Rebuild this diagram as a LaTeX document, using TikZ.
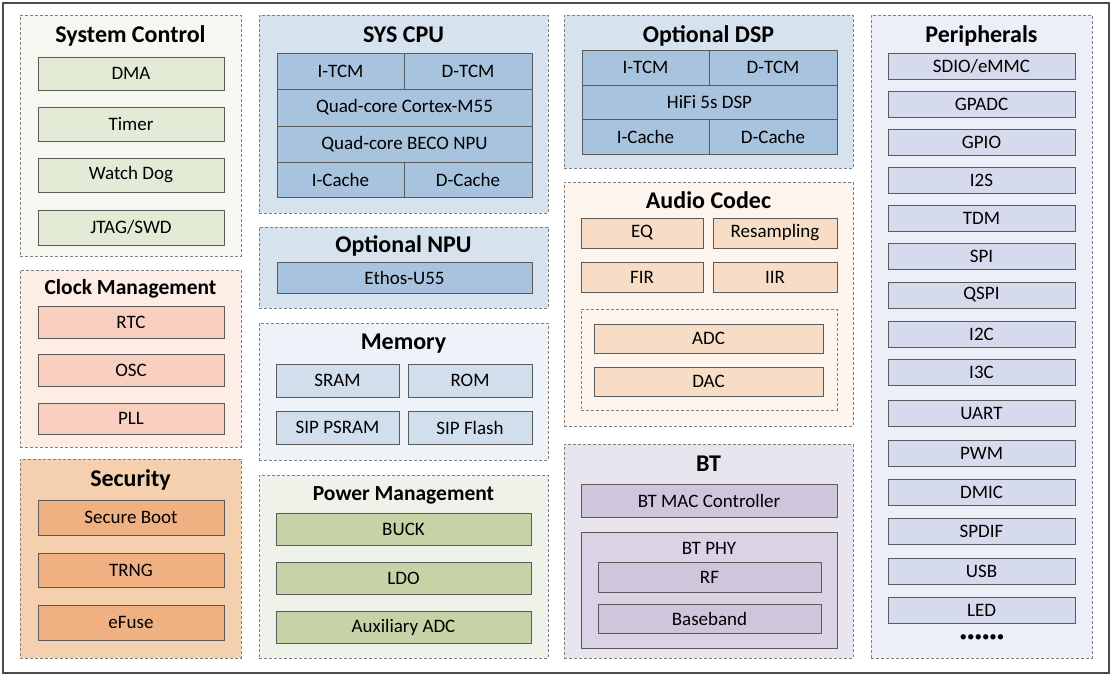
\documentclass[tikz,border=0pt]{standalone}
\usepackage{fontspec}
\setmainfont{Carlito}
\usetikzlibrary{positioning}
\definecolor{scG}{HTML}{F5F7F0}\definecolor{scI}{HTML}{E3EAD5}
\definecolor{ckG}{HTML}{FCEEE5}\definecolor{ckI}{HTML}{F9D0C0}
\definecolor{seG}{HTML}{F5D0AF}\definecolor{seI}{HTML}{EFB182}
\definecolor{cpG}{HTML}{D6E3EE}\definecolor{cpI}{HTML}{A7C3DD}
\definecolor{meG}{HTML}{EEF3F9}\definecolor{meI}{HTML}{D1DEEB}
\definecolor{pwG}{HTML}{EFF2E9}\definecolor{pwI}{HTML}{C6D3A6}
\definecolor{auG}{HTML}{FDF4EE}\definecolor{auI}{HTML}{F8DDC6}
\definecolor{btG}{HTML}{E8E5EF}\definecolor{btI}{HTML}{CEC6DB}\definecolor{btP}{HTML}{D9D3E5}
\definecolor{peG}{HTML}{ECEFF8}\definecolor{peI}{HTML}{D5DAEC}
\definecolor{edge}{HTML}{5A5A5A}
\definecolor{dashc}{HTML}{808080}
\newcommand\rbox[7]{\node[#6, minimum width={(#4-#2)*1pt}, minimum height={(#5-#3)*1pt}] (#1) at ({(#2+#4)/2},{(#3+#5)/2}) {#7};}
\tikzset{
  grp/.style={draw=dashc, line width=0.8pt, dash pattern=on 3pt off 2pt, inner sep=0pt, outer sep=0pt},
  itm/.style={draw=edge, line width=0.8pt, inner sep=0pt, outer sep=0pt, font=\fontsize{19}{21}\selectfont},
  ttl/.style={font=\fontsize{24}{26}\selectfont\bfseries, inner sep=0pt, anchor=base},
  ttls/.style={font=\fontsize{21.5}{23}\selectfont\bfseries, inner sep=0pt, anchor=base},
  lbl/.style={font=\fontsize{19}{21}\selectfont, inner sep=0pt}
}
\begin{document}
\begin{tikzpicture}[x=1pt,y=-1pt]
\useasboundingbox (0,0) rectangle (1113,678);
\rbox{outer}{3}{3}{1109}{673}{draw=black!70, line width=2.2pt, fill=white}{}
% System Control
\rbox{sc}{20}{15}{241}{256}{grp, fill=scG}{}
\node[ttl] (scT) at (130.5,42) {System Control};
\rbox{dma}{38}{57}{224}{90}{itm, fill=scI}{DMA}
\rbox{timer}{38}{107}{224}{141}{itm, fill=scI}{Timer}
\rbox{wdog}{38}{158}{224}{192}{itm, fill=scI}{Watch Dog}
\rbox{jtag}{38}{210}{224}{245}{itm, fill=scI}{JTAG/SWD}
% Clock Management
\rbox{ck}{20}{270}{241}{447}{grp, fill=ckG}{}
\node[ttls] (ckT) at (130.5,294) {Clock Management};
\rbox{rtc}{38}{306}{224}{338}{itm, fill=ckI}{RTC}
\rbox{osc}{38}{354}{224}{386}{itm, fill=ckI}{OSC}
\rbox{pll}{38}{403}{224}{434}{itm, fill=ckI}{PLL}
% Security
\rbox{se}{20}{459}{241}{658}{grp, fill=seG}{}
\node[ttl] (seT) at (130.5,486) {Security};
\rbox{sboot}{38}{500}{224}{535}{itm, fill=seI}{Secure Boot}
\rbox{trng}{38}{553}{224}{587}{itm, fill=seI}{TRNG}
\rbox{efuse}{38}{605}{224}{640}{itm, fill=seI}{eFuse}
% SYS CPU
\rbox{cpu}{259}{15}{548}{213}{grp, fill=cpG}{}
\node[ttl] (cpuT) at (403.5,42) {SYS CPU};
\rbox{citcm}{277}{53}{404}{89}{itm, fill=cpI}{I-TCM}
\rbox{cdtcm}{404}{53}{532}{89}{itm, fill=cpI}{D-TCM}
\rbox{cm55}{277}{89}{532}{126}{itm, fill=cpI}{Quad-core Cortex-M55}
\rbox{cbeco}{277}{126}{532}{162}{itm, fill=cpI}{Quad-core BECO NPU}
\rbox{cic}{277}{162}{404}{197}{itm, fill=cpI}{I-Cache}
\rbox{cdc}{404}{162}{532}{197}{itm, fill=cpI}{D-Cache}
% Optional NPU
\rbox{npu}{259}{227}{548}{308}{grp, fill=cpG}{}
\node[ttl] (npuT) at (403.5,252) {Optional NPU};
\rbox{ethos}{277}{262}{532}{293}{itm, fill=cpI}{Ethos-U55}
% Memory
\rbox{mem}{259}{323}{548}{460}{grp, fill=meG}{}
\node[ttl] (memT) at (403.5,349) {Memory};
\rbox{sram}{276}{364}{399}{397}{itm, fill=meI}{SRAM}
\rbox{rom}{408}{364}{532}{397}{itm, fill=meI}{ROM}
\rbox{psram}{276}{411}{399}{444}{itm, fill=meI}{SIP PSRAM}
\rbox{flash}{408}{411}{532}{444}{itm, fill=meI}{SIP Flash}
% Power Management
\rbox{pw}{259}{475}{548}{658}{grp, fill=pwG}{}
\node[ttls] (pwT) at (403.5,500) {Power Management};
\rbox{buck}{276}{513}{531}{545}{itm, fill=pwI}{BUCK}
\rbox{ldo}{276}{562}{531}{594}{itm, fill=pwI}{LDO}
\rbox{aadc}{276}{611}{531}{643}{itm, fill=pwI}{Auxiliary ADC}
% Optional DSP
\rbox{dsp}{564}{15}{853}{168}{grp, fill=cpG}{}
\node[ttl] (dspT) at (708.5,42) {Optional DSP};
\rbox{ditcm}{582}{50}{709}{85}{itm, fill=cpI}{I-TCM}
\rbox{ddtcm}{709}{50}{837}{85}{itm, fill=cpI}{D-TCM}
\rbox{hifi}{582}{85}{837}{119}{itm, fill=cpI}{HiFi 5s DSP}
\rbox{dic}{582}{119}{709}{154}{itm, fill=cpI}{I-Cache}
\rbox{ddc}{709}{119}{837}{154}{itm, fill=cpI}{D-Cache}
% Audio Codec
\rbox{au}{564}{182}{853}{426}{grp, fill=auG}{}
\node[ttl] (auT) at (708.5,208) {Audio Codec};
\rbox{eq}{581}{218}{703}{248}{itm, fill=auI}{EQ}
\rbox{resamp}{713}{218}{837}{248}{itm, fill=auI}{Resampling}
\rbox{fir}{581}{262}{703}{292}{itm, fill=auI}{FIR}
\rbox{iir}{713}{262}{837}{292}{itm, fill=auI}{IIR}
\rbox{conv}{581}{309}{837}{410}{grp}{}
\rbox{adc}{594}{324}{823}{353}{itm, fill=auI}{ADC}
\rbox{dac}{594}{367}{823}{396}{itm, fill=auI}{DAC}
% BT
\rbox{bt}{564}{444}{853}{658}{grp, fill=btG}{}
\node[ttl] (btT) at (708.5,471) {BT};
\rbox{mac}{581}{484}{837}{517}{itm, fill=btI}{BT MAC Controller}
\rbox{phy}{581}{532}{837}{648}{itm, fill=btP}{}
\node[lbl, anchor=base] (phyT) at (709,554) {BT PHY};
\rbox{rf}{598}{562}{821}{592}{itm, fill=btI}{RF}
\rbox{bb}{598}{604}{821}{633}{itm, fill=btI}{Baseband}
% Peripherals
\rbox{pe}{871}{15}{1092}{658}{grp, fill=peG}{}
\node[ttl] (peT) at (981.5,42) {Peripherals};
\foreach \t/\lab [count=\i] in {53/SDIO\slash eMMC,91/GPADC,129/GPIO,167/I2S,205/TDM,243/SPI,282/QSPI,321/I2C,359/I3C,400/UART,440/PWM,479/DMIC,518/SPDIF,558/USB,597/LED}{
  \rbox{p\i}{888}{\t}{1075}{\t+26}{itm, fill=peI}{\lab}
}
\node[lbl] (pdots) at (982,638) {\fontsize{15}{16}\selectfont••••••};
\end{tikzpicture}
\end{document}
